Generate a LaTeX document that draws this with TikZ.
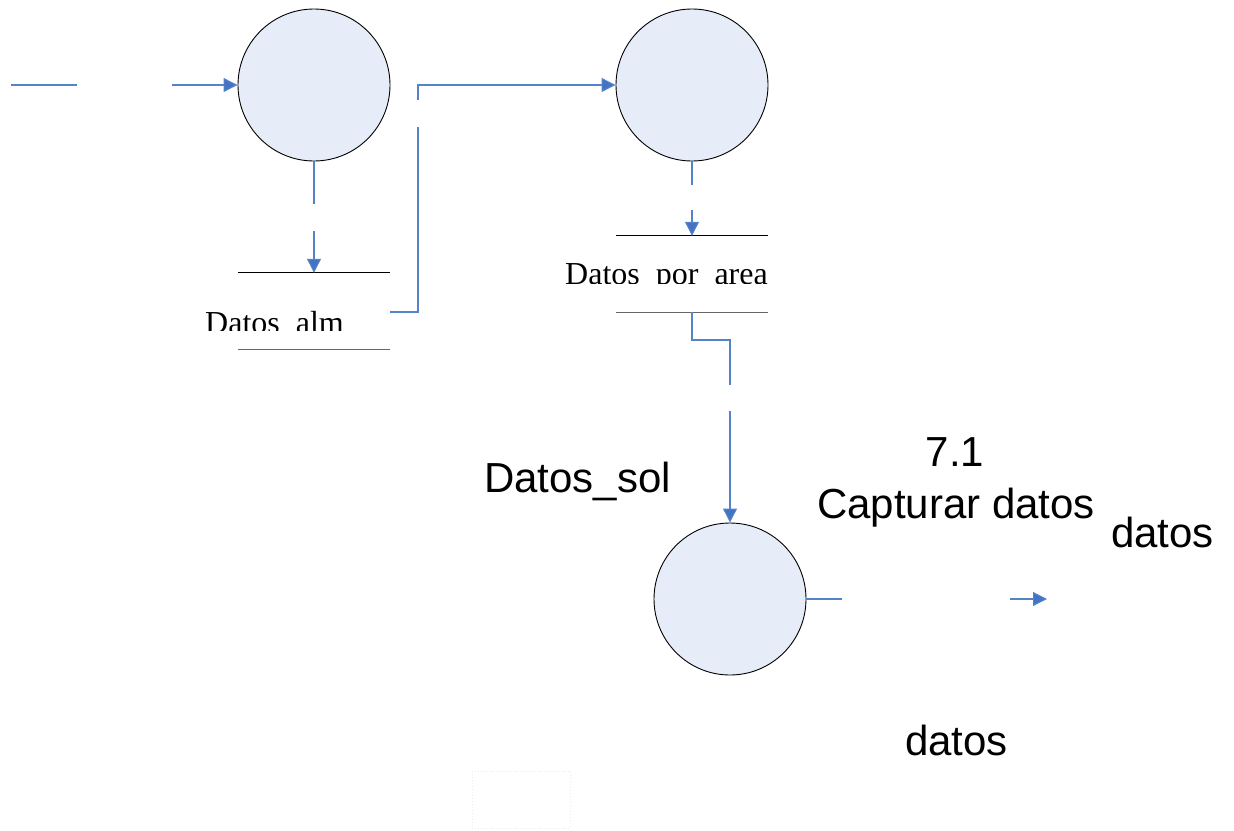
\documentclass[tikz,border=0pt]{standalone}
\usepackage{fontspec}
\setmainfont{Liberation Serif}
\newfontfamily\arialfont{Liberation Sans}
\usetikzlibrary{arrows.meta}
\definecolor{flowblue}{RGB}{84,132,200}
\definecolor{tipblue}{RGB}{68,114,196}
\definecolor{procfill}{RGB}{231,237,248}
\tikzset{
  x=1pt, y=-1pt,
  process/.style={circle, draw=black, line width=0.9pt, fill=procfill,
    minimum size=152pt, inner sep=0pt},
  storebox/.style={rectangle, minimum width=152pt, minimum height=76pt, inner sep=0pt},
  storeline/.style={line width=1.1pt},
  flow/.style={draw=flowblue, line width=1.1pt},
  flowarrow/.style={flow, -{Triangle[length=14pt,width=14pt,fill=tipblue]}},
  seriflabel/.style={anchor=base west, inner sep=0pt, font=\fontsize{32}{38}\selectfont},
  sanslabel/.style={inner sep=0pt, font=\arialfont\fontsize{42}{50}\selectfont},
}
\begin{document}
\begin{tikzpicture}
\useasboundingbox (0,0) rectangle (1234,830);

% processes
\node[process] (p1) at (314,85) {};
\node[process] (p2) at (692,85) {};
\node[process] (p3) at (730,599) {};

% data stores
\node[storebox] (s1) at (314,311) {};
\node[storebox] (s2) at (692,274) {};
\draw[storeline] (s1.north west) -- (s1.north east);
\draw[storeline, black!60] (s1.south west) -- (s1.south east);
\draw[storeline] (s2.north west) -- (s2.north east);
\draw[storeline, black!60] (s2.south west) -- (s2.south east);

% store names, cut just above the baseline
\begin{scope}
  \clip (150,280) rectangle (450,330);
  \node[seriflabel] (t1) at (205,333) {Datos\_alm};
\end{scope}
\begin{scope}
  \clip (520,230) rectangle (800,283);
  \node[seriflabel] (t2) at (565,284) {Datos\_por\_area};
\end{scope}

% incoming flow to p1
\coordinate (in0) at (11,85);
\coordinate (in1) at (77,85);
\coordinate (in2) at (172,85);
\draw[flow] (in0) -- (in1);
\draw[flowarrow] (in2) -- (p1.west);

% p1 to store 1
\coordinate (a1) at (314,204);
\coordinate (a2) at (314,231);
\draw[flow] (p1.south) -- (a1);
\draw[flowarrow] (a2) -- (s1.north);

% store 1 to p2
\coordinate (b1) at (418,312);
\coordinate (b2) at (418,127);
\coordinate (b3) at (418,100);
\coordinate (b4) at (418,85);
\draw[flow] (390,312) -- (b1) -- (b2);
\draw[flowarrow] (b3) -- (b4) -- (p2.west);

% p2 to store 2
\coordinate (c1) at (692,185);
\coordinate (c2) at (692,210);
\draw[flow] (p2.south) -- (c1);
\draw[flowarrow] (c2) -- (s2.north);

% store 2 to p3
\coordinate (d1) at (692,340);
\coordinate (d2) at (730,340);
\coordinate (d3) at (730,385);
\coordinate (d4) at (730,411);
\draw[flow] (s2.south) -- (d1) -- (d2) -- (d3);
\draw[flowarrow] (d4) -- (p3.north);

% outgoing flow from p3
\coordinate (e1) at (842,599);
\coordinate (e2) at (1010,599);
\coordinate (e3) at (1047,599);
\draw[flow] (p3.east) -- (e1);
\draw[flowarrow] (e2) -- (e3);

% sans labels
\begin{scope}
  \clip (470,430) rectangle (670,510);
  \node[sanslabel, anchor=base west] (sol) at (484,492) {Datos\_sol};
\end{scope}
\node[sanslabel, anchor=base] (num) at (955,466) {7.1};
\node[sanslabel, anchor=base] (cap) at (956,518) {Capturar datos};
\node[sanslabel, anchor=base west] (dat1) at (1111,547) {datos};
\node[sanslabel, anchor=base west] (dat2) at (905,755) {datos};

% faint empty frame
\draw[black!8, dotted, line width=1pt] (472,771) rectangle (570,828);
\end{tikzpicture}
\end{document}
